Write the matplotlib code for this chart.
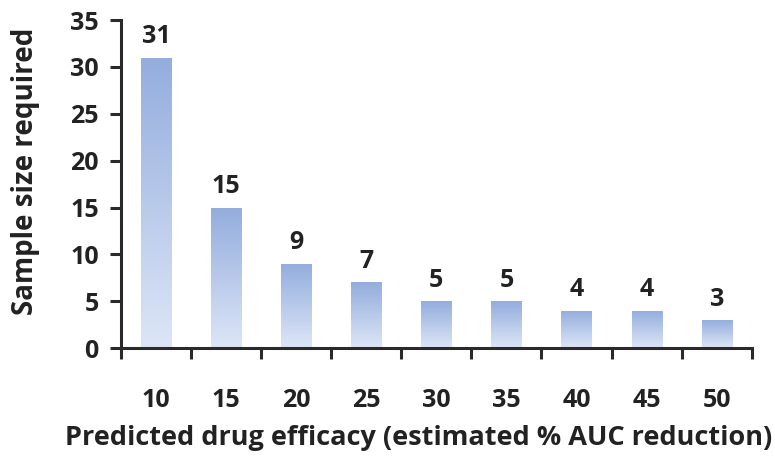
import matplotlib.pyplot as plt
import matplotlib.colors as mcolors
import numpy as np

# sample size needed for each predicted efficacy level
efficacy = ['10', '15', '20', '25', '30', '35', '40', '45', '50']
sample_size = [31, 15, 9, 7, 5, 5, 4, 4, 3]

plt.rcParams['font.family'] = ['Open Sans', 'DejaVu Sans']
plt.rcParams['font.weight'] = 'bold'
text_col = '#222222'
axis_col = '#2a2a2a'

fig = plt.figure(figsize=(7.75, 4.58), dpi=100)
ax = fig.add_axes([0.156, 0.240, 0.814, 0.716])

x = np.arange(len(efficacy))
bars = ax.bar(x, sample_size, width=0.43, color='none', edgecolor='none', zorder=2)

# vertical gradient in every bar, dark at the top, pale at the base
cmap = mcolors.LinearSegmentedColormap.from_list('barfade', ['#dde6f7', '#93addd'])
grad = np.linspace(0, 1, 256).reshape(-1, 1)
for b in bars:
    x0, w, h = b.get_x(), b.get_width(), b.get_height()
    im = ax.imshow(grad, cmap=cmap, aspect='auto', origin='lower',
                   extent=[x0, x0 + w, 0, h], zorder=2)
    im.set_clip_path(b)
    ax.annotate(str(h), (x0 + w / 2, h), xytext=(0, 6), textcoords='offset points',
                ha='center', va='bottom', fontsize=18, fontweight='bold', color=text_col)

ax.set_xlim(-0.5, len(efficacy) - 0.5)
ax.set_ylim(0, 35)
ax.set_yticks(range(0, 36, 5))
ax.set_xticks(x)
ax.set_xticklabels(efficacy)
ax.set_xticks(np.arange(-0.5, len(efficacy), 1), minor=True)

ax.tick_params(axis='x', which='major', length=0, pad=29, labelsize=18, labelcolor=text_col)
ax.tick_params(axis='x', which='minor', length=8, width=2.2, color=axis_col, direction='out')
ax.tick_params(axis='y', length=8, width=2.2, color=axis_col, pad=8, labelsize=18, labelcolor=text_col)

for side in ['top', 'right']:
    ax.spines[side].set_visible(False)
for side in ['left', 'bottom']:
    ax.spines[side].set_linewidth(2.2)
    ax.spines[side].set_color(axis_col)

ax.set_xlabel('Predicted drug efficacy (estimated % AUC reduction)', fontsize=19.5,
              fontweight='bold', color=text_col)
ax.xaxis.set_label_coords(0.472, -0.235)
ax.set_ylabel('Sample size required', fontsize=20, fontweight='bold', color=text_col)
ax.yaxis.set_label_coords(-0.129, 0.54)

fig.savefig('out.png', dpi=100)
